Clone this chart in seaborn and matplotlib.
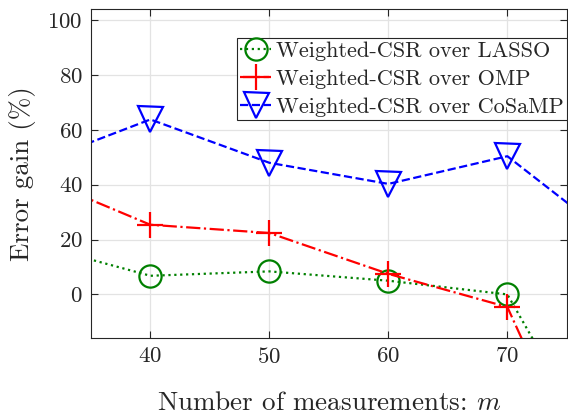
import pandas as pd
import seaborn as sns
import matplotlib.pyplot as plt

# values (end points lie outside the visible window)
m = [30, 40, 50, 60, 70, 80]
lasso = [18.6, 6.8, 8.4, 5.0, 0.0, -76.0]
omp = [43.6, 25.4, 22.4, 7.5, -4.6, -100.0]
cosamp = [47.2, 63.8, 48.0, 40.3, 50.4, 16.6]
labels = ['Weighted-CSR over LASSO', 'Weighted-CSR over OMP', 'Weighted-CSR over CoSaMP']

data = pd.DataFrame({'m': m * 3,
                     'gain': lasso + omp + cosamp,
                     'series': [labels[0]] * 6 + [labels[1]] * 6 + [labels[2]] * 6})

sns.set_style('ticks')
plt.rcParams['font.family'] = ['cmr10', 'DejaVu Serif']
plt.rcParams['mathtext.fontset'] = 'cm'
plt.rcParams['axes.formatter.use_mathtext'] = True
plt.rcParams['axes.unicode_minus'] = True

dark = '#262626'
fig = plt.figure(figsize=(5.68, 4.19), dpi=100)
ax = fig.add_axes([0.160, 0.1926, 0.838, 0.7854])

styles = [
    dict(color='green', linestyle=':', marker='o', markersize=16, mfc='none'),
    dict(color='red', linestyle='-.', marker='+', markersize=19),
    dict(color='blue', linestyle='--', marker='v', markersize=18, mfc='none'),
]
for lab, st in zip(labels, styles):
    sns.lineplot(data=data[data['series'] == lab], x='m', y='gain', ax=ax,
                 label=lab, linewidth=1.6, markeredgewidth=1.6,
                 markeredgecolor=st['color'], **st)

ax.set_xlim(35, 75)
ax.set_ylim(-16, 104)
ax.set_xticks([40, 50, 60, 70])
ax.set_yticks([0, 20, 40, 60, 80, 100])
ax.grid(True, color='#e3e3e3', linewidth=0.9)
ax.set_axisbelow(True)
ax.tick_params(direction='in', top=True, right=True, length=5, width=0.8,
               labelsize=16.5, colors=dark, labelcolor=dark, pad=6)
for sp in ax.spines.values():
    sp.set_color(dark)
    sp.set_linewidth(0.8)

ax.set_xlabel('Number of measurements: $m$', fontsize=19.5, color=dark, labelpad=18)
ax.set_ylabel('Error gain (%)', fontsize=19.5, color=dark, labelpad=8)

leg = ax.legend(loc='upper right', bbox_to_anchor=(1.0, 0.913), fontsize=16,
                frameon=True, fancybox=False, borderaxespad=0, handlelength=1.4,
                handletextpad=0.2, borderpad=0.15, labelspacing=0.38)
leg.get_frame().set_edgecolor(dark)
leg.get_frame().set_linewidth(0.8)
leg.get_frame().set_alpha(1)

fig.savefig('out.png', dpi=100)
